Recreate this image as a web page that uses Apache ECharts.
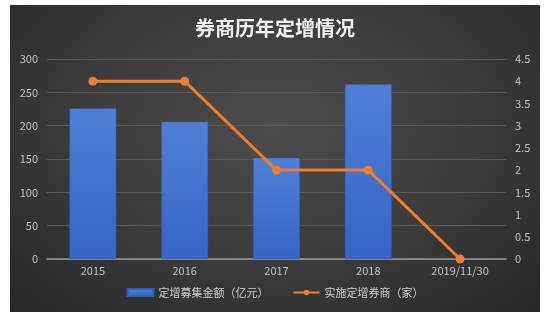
<!DOCTYPE html>
<html>
<head>
<meta charset="utf-8">
<script src="https://cdn.jsdelivr.net/npm/echarts@6/dist/echarts.min.js"></script>
<style>
html,body{margin:0;padding:0;background:#fff;width:550px;height:321px;overflow:hidden;}
#panel{position:absolute;left:10px;top:5px;width:530px;height:307px;
background:radial-gradient(ellipse at 50% 40%, #4c4c4c 0%, #3a3a3a 55%, #262626 100%);}
#chart{position:absolute;left:0;top:0;width:550px;height:321px;}
</style>
</head>
<body>
<div id="panel"></div>
<div id="chart"></div>
<script>
const title = '券商历年定增情况';
const categories = ['2015', '2016', '2017', '2018', '2019/11/30'];
const amountName = '定增募集金额（亿元）';
const amountValues = [226, 206, 152, 262, null];
const brokerName = '实施定增券商（家）';
const brokerValues = [4, 4, 2, 2, 0];

const chart = echarts.init(document.getElementById('chart'), null, {renderer: 'canvas'});
const font = '"Noto Sans CJK SC", "Noto Sans", sans-serif';
chart.setOption({
  backgroundColor: 'transparent',
  animation: false,
  textStyle: {fontFamily: font},
  title: {
    text: title, left: 'center', top: 13,
    textStyle: {color: '#f2f2f2', fontSize: 20, fontWeight: 'bold', fontFamily: font}
  },
  legend: {
    bottom: 18, left: 'center', itemGap: 24, itemWidth: 26, itemHeight: 7,
    textStyle: {color: '#cfcfcf', fontSize: 11, fontFamily: font},
    data: [{name: amountName, icon: 'rect'}, {name: brokerName}]
  },
  grid: {left: 47, right: 44, top: 59, bottom: 62, containLabel: false},
  xAxis: {
    type: 'category', data: categories,
    axisLine: {lineStyle: {color: '#9a9a9a', width: 1.5}},
    axisTick: {show: false},
    axisLabel: {color: '#c4c4c4', fontSize: 11, margin: 6, fontFamily: font}
  },
  yAxis: [{
    type: 'value', min: 0, max: 300, interval: 50,
    axisLine: {show: false}, axisTick: {show: false},
    axisLabel: {color: '#c4c4c4', fontSize: 11, margin: 9, fontFamily: font},
    splitLine: {lineStyle: {color: '#585858', width: 1}}
  }, {
    type: 'value', min: 0, max: 4.5, interval: 0.5,
    axisLine: {show: false}, axisTick: {show: false},
    axisLabel: {color: '#c4c4c4', fontSize: 11, margin: 9, fontFamily: font},
    splitLine: {show: false}
  }],
  series: [{
    name: amountName, type: 'bar', data: amountValues, yAxisIndex: 0,
    barWidth: '51%',
    itemStyle: {
      color: new echarts.graphic.LinearGradient(0, 0, 0, 1, [
        {offset: 0, color: '#4f80d6'}, {offset: 1, color: '#3565c6'}
      ]),
      borderColor: '#2f5cb5', borderWidth: 0.5
    }
  }, {
    name: brokerName, type: 'line', data: brokerValues, yAxisIndex: 1,
    symbol: 'circle', symbolSize: 9,
    lineStyle: {color: '#ee7d2f', width: 3},
    itemStyle: {color: '#ee7d2f'}
  }]
});
</script>
</body>
</html>
